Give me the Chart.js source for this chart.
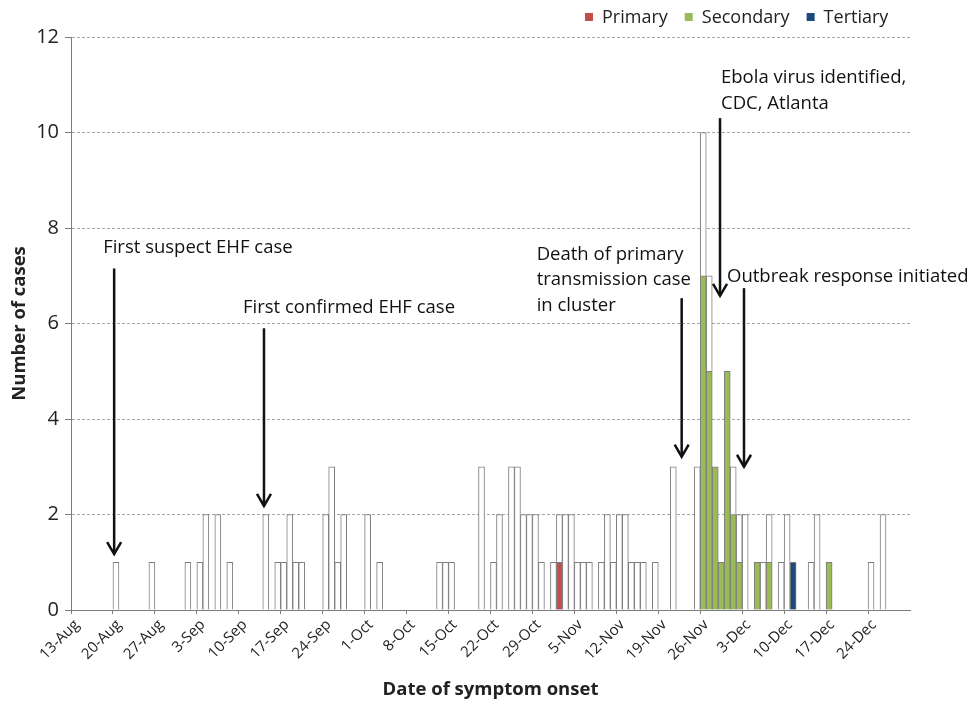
<!DOCTYPE html>
<html>
<head>
<meta charset="utf-8">
<title>Cases by date of symptom onset</title>
<script src="https://cdn.jsdelivr.net/npm/chart.js@4.4.1/dist/chart.umd.min.js"></script>
<style>
  html, body { margin: 0; padding: 0; background: #fff; }
  #wrap { width: 969px; height: 707px; }
</style>
</head>
<body>
<div id="wrap"><canvas id="epiCurve" width="969" height="707"></canvas></div>
<script>
// daily case counts, 13-Aug .. 30-Dec, one row per week
const weekLabels = ["13-Aug", "20-Aug", "27-Aug", "3-Sep", "10-Sep", "17-Sep", "24-Sep",
    "1-Oct", "8-Oct", "15-Oct", "22-Oct", "29-Oct", "5-Nov", "12-Nov", "19-Nov",
    "26-Nov", "3-Dec", "10-Dec", "17-Dec", "24-Dec"];

const otherCases = [
    0,0,0,0,0,0,0,  1,0,0,0,0,0,1,  0,0,0,0,0,1,0,  1,2,0,2,0,1,0,
    0,0,0,0,2,0,1,  1,2,1,1,0,0,0,  2,3,1,2,0,0,0,  2,0,1,0,0,0,0,
    0,0,0,0,0,1,1,  1,0,0,0,0,3,0,  1,2,0,3,3,2,2,  2,1,0,1,1,2,2,
    1,1,1,0,1,2,1,  2,2,1,1,1,0,1,  0,0,3,0,0,0,3,  3,2,0,0,0,1,1,
    2,0,0,1,1,0,1,  2,0,0,0,1,2,0,  0,0,0,0,0,0,0,  1,0,2,0,0,0,0
];
const primaryCases = [
    0,0,0,0,0,0,0,  0,0,0,0,0,0,0,  0,0,0,0,0,0,0,  0,0,0,0,0,0,0,
    0,0,0,0,0,0,0,  0,0,0,0,0,0,0,  0,0,0,0,0,0,0,  0,0,0,0,0,0,0,
    0,0,0,0,0,0,0,  0,0,0,0,0,0,0,  0,0,0,0,0,0,0,  0,0,0,0,1,0,0,
    0,0,0,0,0,0,0,  0,0,0,0,0,0,0,  0,0,0,0,0,0,0,  0,0,0,0,0,0,0,
    0,0,0,0,0,0,0,  0,0,0,0,0,0,0,  0,0,0,0,0,0,0,  0,0,0,0,0,0,0
];
const secondaryCases = [
    0,0,0,0,0,0,0,  0,0,0,0,0,0,0,  0,0,0,0,0,0,0,  0,0,0,0,0,0,0,
    0,0,0,0,0,0,0,  0,0,0,0,0,0,0,  0,0,0,0,0,0,0,  0,0,0,0,0,0,0,
    0,0,0,0,0,0,0,  0,0,0,0,0,0,0,  0,0,0,0,0,0,0,  0,0,0,0,0,0,0,
    0,0,0,0,0,0,0,  0,0,0,0,0,0,0,  0,0,0,0,0,0,0,  7,5,3,1,5,2,1,
    0,0,1,0,1,0,0,  0,0,0,0,0,0,0,  1,0,0,0,0,0,0,  0,0,0,0,0,0,0
];
const tertiaryCases = [
    0,0,0,0,0,0,0,  0,0,0,0,0,0,0,  0,0,0,0,0,0,0,  0,0,0,0,0,0,0,
    0,0,0,0,0,0,0,  0,0,0,0,0,0,0,  0,0,0,0,0,0,0,  0,0,0,0,0,0,0,
    0,0,0,0,0,0,0,  0,0,0,0,0,0,0,  0,0,0,0,0,0,0,  0,0,0,0,0,0,0,
    0,0,0,0,0,0,0,  0,0,0,0,0,0,0,  0,0,0,0,0,0,0,  0,0,0,0,0,0,0,
    0,0,0,0,0,0,0,  0,1,0,0,0,0,0,  0,0,0,0,0,0,0,  0,0,0,0,0,0,0
];

// annotations: arrow at a (fractional) day index, from/to in case units
const noteText = [
    ["First suspect EHF case"],
    ["First confirmed EHF case"],
    ["Death of primary", "transmission case", "in cluster"],
    ["Ebola virus identified,", "CDC, Atlanta"],
    ["Outbreak response initiated"]
];
const noteDay = [6.7, 31.7, 101.4, 107.8, 111.8];
const noteFrom = [7.15, 5.9, 6.53, 10.3, 6.74];
const noteTo = [1.17, 2.18, 3.21, 6.58, 3.0];
const noteTextY = [7.47, 6.23, 7.33, 11.03, 6.86];
const noteTextDx = [-11, -21, -145, 1, -17];

const GRAY = "#7d7d7d";
const FONT = "'Open Sans', sans-serif";
Chart.defaults.font.family = FONT;
Chart.defaults.color = "#222";

const days = otherCases.map((_, i) => i);
const nz = arr => arr.map(v => v || null);

const notesPlugin = {
    id: "notes",
    afterDatasetsDraw(chart) {
        const { ctx, scales: { x, y } } = chart;
        ctx.save();
        ctx.fillStyle = "#111";
        ctx.strokeStyle = "#111";
        ctx.font = "18.5px " + FONT;
        ctx.textBaseline = "alphabetic";
        ctx.textAlign = "left";

        noteText.forEach((lines, k) => {
            const px = x.getPixelForValue(noteDay[k]);
            const y0 = y.getPixelForValue(noteFrom[k]);
            const y1 = y.getPixelForValue(noteTo[k]);

            ctx.lineWidth = 2.5;
            ctx.beginPath();
            ctx.moveTo(px, y0);
            ctx.lineTo(px, y1);
            ctx.stroke();
            ctx.beginPath();
            ctx.moveTo(px - 7, y1 - 12);
            ctx.lineTo(px, y1);
            ctx.lineTo(px + 7, y1 - 12);
            ctx.stroke();

            const ty = y.getPixelForValue(noteTextY[k]);
            lines.forEach((t, j) => ctx.fillText(t, px + noteTextDx[k], ty + j * 25.5));
        });
        ctx.restore();
    },
    afterDraw(chart) {
        const ctx = chart.ctx;
        ctx.save();
        ctx.font = "18px " + FONT;
        ctx.textBaseline = "alphabetic";
        let lx = 585;
        chart.data.datasets.filter(d => d.inLegend).forEach(d => {
            ctx.fillStyle = d.backgroundColor;
            ctx.fillRect(lx, 13, 8, 8);
            ctx.fillStyle = "#222";
            ctx.fillText(d.label, lx + 17, 23);
            lx += 17 + ctx.measureText(d.label).width + 17;
        });
        ctx.restore();
    }
};

function makeSet(label, values, color, inLegend) {
    return {
        label,
        data: nz(values),
        backgroundColor: color,
        borderColor: GRAY,
        borderWidth: 1,
        categoryPercentage: 1,
        barPercentage: 1,
        inLegend
    };
}

new Chart(document.getElementById("epiCurve"), {
    type: "bar",
    data: {
        labels: days,
        datasets: [
            makeSet("Primary", primaryCases, "#c0504d", true),
            makeSet("Secondary", secondaryCases, "#9bbb59", true),
            makeSet("Tertiary", tertiaryCases, "#1f497d", true),
            makeSet("Other", otherCases, "#ffffff", false)
        ]
    },
    options: {
        responsive: false,
        animation: false,
        layout: { padding: { left: 0, right: 59, top: 37, bottom: 0 } },
        plugins: {
            legend: { display: false },
            tooltip: { enabled: false }
        },
        scales: {
            x: {
                stacked: true,
                offset: true,
                afterFit: s => { s.height = 97; },
                grid: {
                    offset: true,
                    drawOnChartArea: false,
                    tickLength: 4,
                    tickColor: c => c.index % 7 === 0 ? GRAY : "transparent"
                },
                border: { color: GRAY, width: 1 },
                ticks: {
                    autoSkip: false,
                    minRotation: 45,
                    maxRotation: 45,
                    padding: 2,
                    labelOffset: 3,
                    font: { size: 15 },
                    color: "#222",
                    callback: (v, i) => i % 7 === 0 ? weekLabels[i / 7] : ""
                },
                title: {
                    display: true,
                    text: "Date of symptom onset",
                    font: { size: 18.5, weight: "bold" },
                    color: "#222",
                    padding: { top: 0, bottom: 6 }
                }
            },
            y: {
                stacked: true,
                min: 0,
                max: 12,
                afterFit: s => { s.width = 71; },
                grid: {
                    color: c => c.tick && c.tick.value === 0 ? "transparent" : "#a6a6a6",
                    tickColor: GRAY,
                    tickLength: 6
                },
                border: { color: GRAY, width: 1, dash: [3, 2] },
                ticks: {
                    stepSize: 2,
                    padding: 6,
                    font: { size: 20 },
                    color: "#222"
                },
                title: {
                    display: true,
                    text: "Number of cases",
                    font: { size: 18.5, weight: "bold" },
                    color: "#222",
                    padding: { top: 9, bottom: 0 }
                }
            }
        }
    },
    plugins: [notesPlugin]
});
</script>
</body>
</html>
